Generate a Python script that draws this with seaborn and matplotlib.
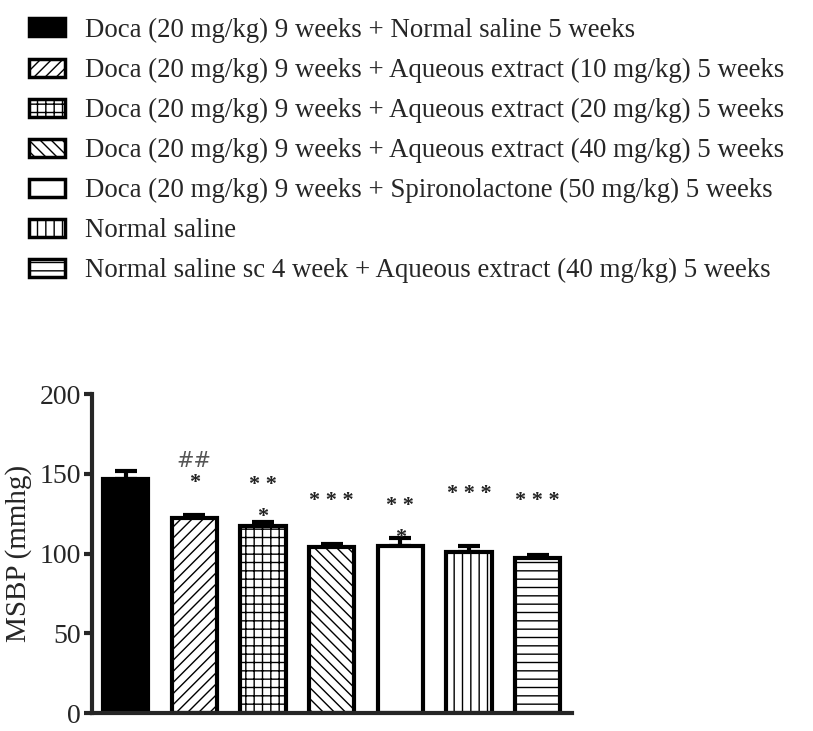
import numpy as np
import pandas as pd
import matplotlib
matplotlib.use('Agg')
import matplotlib.pyplot as plt
import seaborn as sns
from matplotlib.patches import Patch

# groups (legend labels)
groups = [
    'Doca (20 mg/kg) 9 weeks + Normal saline 5 weeks',
    'Doca (20 mg/kg) 9 weeks + Aqueous extract (10 mg/kg) 5 weeks',
    'Doca (20 mg/kg) 9 weeks + Aqueous extract (20 mg/kg) 5 weeks',
    'Doca (20 mg/kg) 9 weeks + Aqueous extract (40 mg/kg) 5 weeks',
    'Doca (20 mg/kg) 9 weeks + Spironolactone (50 mg/kg) 5 weeks',
    'Normal saline',
    'Normal saline sc 4 week + Aqueous extract (40 mg/kg) 5 weeks',
]
msbp_mean = [147, 122, 117, 104, 105, 101, 97]
msbp_sem = [5, 2, 3, 2, 5, 4, 2]
# significance marks above each bar: (text, y position)
sig_marks = [('', 0), ('*', 144), ('* *', 143), ('* * *', 133), ('* *', 130), ('* * *', 137), ('* * *', 133)]
hash_marks = [('', 0), ('##', 158), ('', 0), ('', 0), ('', 0), ('', 0), ('', 0)]
cap_marks = [('', 0), ('', 0), ('*', 123), ('', 0), ('*', 110), ('', 0), ('', 0)]

hatches = ['', '///', '++', '\\\\\\', '', '||', '--']
faces = ['black', 'white', 'white', 'white', 'white', 'white', 'white']

sns.set_style('ticks')
plt.rcParams['font.family'] = ['Liberation Serif', 'DejaVu Serif']
plt.rcParams['hatch.linewidth'] = 1.0

df = pd.DataFrame({'group': groups, 'msbp': msbp_mean})

fig = plt.figure(figsize=(8.13, 7.31), dpi=100)
ax = fig.add_axes([0.1132, 0.0246, 0.5904, 0.4364])

sns.barplot(data=df, x='group', y='msbp', order=groups, ax=ax, width=0.66,
            color='white', edgecolor='black', linewidth=3, errorbar=None, zorder=2)
for patch, h, fc in zip(ax.patches, hatches, faces):
    patch.set_hatch(h)
    patch.set_facecolor(fc)
    patch.set_edgecolor('black')

x = np.arange(len(groups))
ax.errorbar(x, msbp_mean, yerr=[np.zeros(len(groups)), msbp_sem], fmt='none',
            ecolor='black', elinewidth=3, capsize=8, capthick=3, zorder=1)

for i in range(len(groups)):
    if sig_marks[i][0]:
        ax.text(x[i], sig_marks[i][1], sig_marks[i][0], ha='center', va='center',
                fontsize=16, fontweight='bold', color='#222222')
    if hash_marks[i][0]:
        ax.text(x[i], hash_marks[i][1], hash_marks[i][0], ha='center', va='center',
                fontsize=15, color='#555555', family='DejaVu Sans')
    if cap_marks[i][0]:
        ax.text(x[i], cap_marks[i][1], cap_marks[i][0], ha='center', va='center',
                fontsize=16, fontweight='bold', color='#222222')

ax.set_xlim(-0.49, 6.5)
ax.set_ylim(0, 200)
ax.set_yticks([0, 50, 100, 150, 200])
ax.set_xticks([])
ax.set_xlabel('')
ax.set_ylabel('MSBP (mmhg)', fontsize=21, labelpad=5)
ax.tick_params(axis='y', width=3, length=6, direction='out', labelsize=20, pad=2)
sns.despine(ax=ax)
for s in ['left', 'bottom']:
    ax.spines[s].set_linewidth(3)

handles = [Patch(facecolor=fc if fc == 'black' else 'white', edgecolor='black',
                 hatch=h, linewidth=2.5) for h, fc in zip(hatches, faces)]
fig.legend(handles, groups, loc='upper left', bbox_to_anchor=(0.029, 0.983),
           frameon=False, fontsize=19.4, handlelength=1.35, handleheight=0.65,
           handletextpad=0.72, labelspacing=0.555, borderpad=0.2, borderaxespad=0)

plt.savefig('out.png', dpi=100)
plt.close()
